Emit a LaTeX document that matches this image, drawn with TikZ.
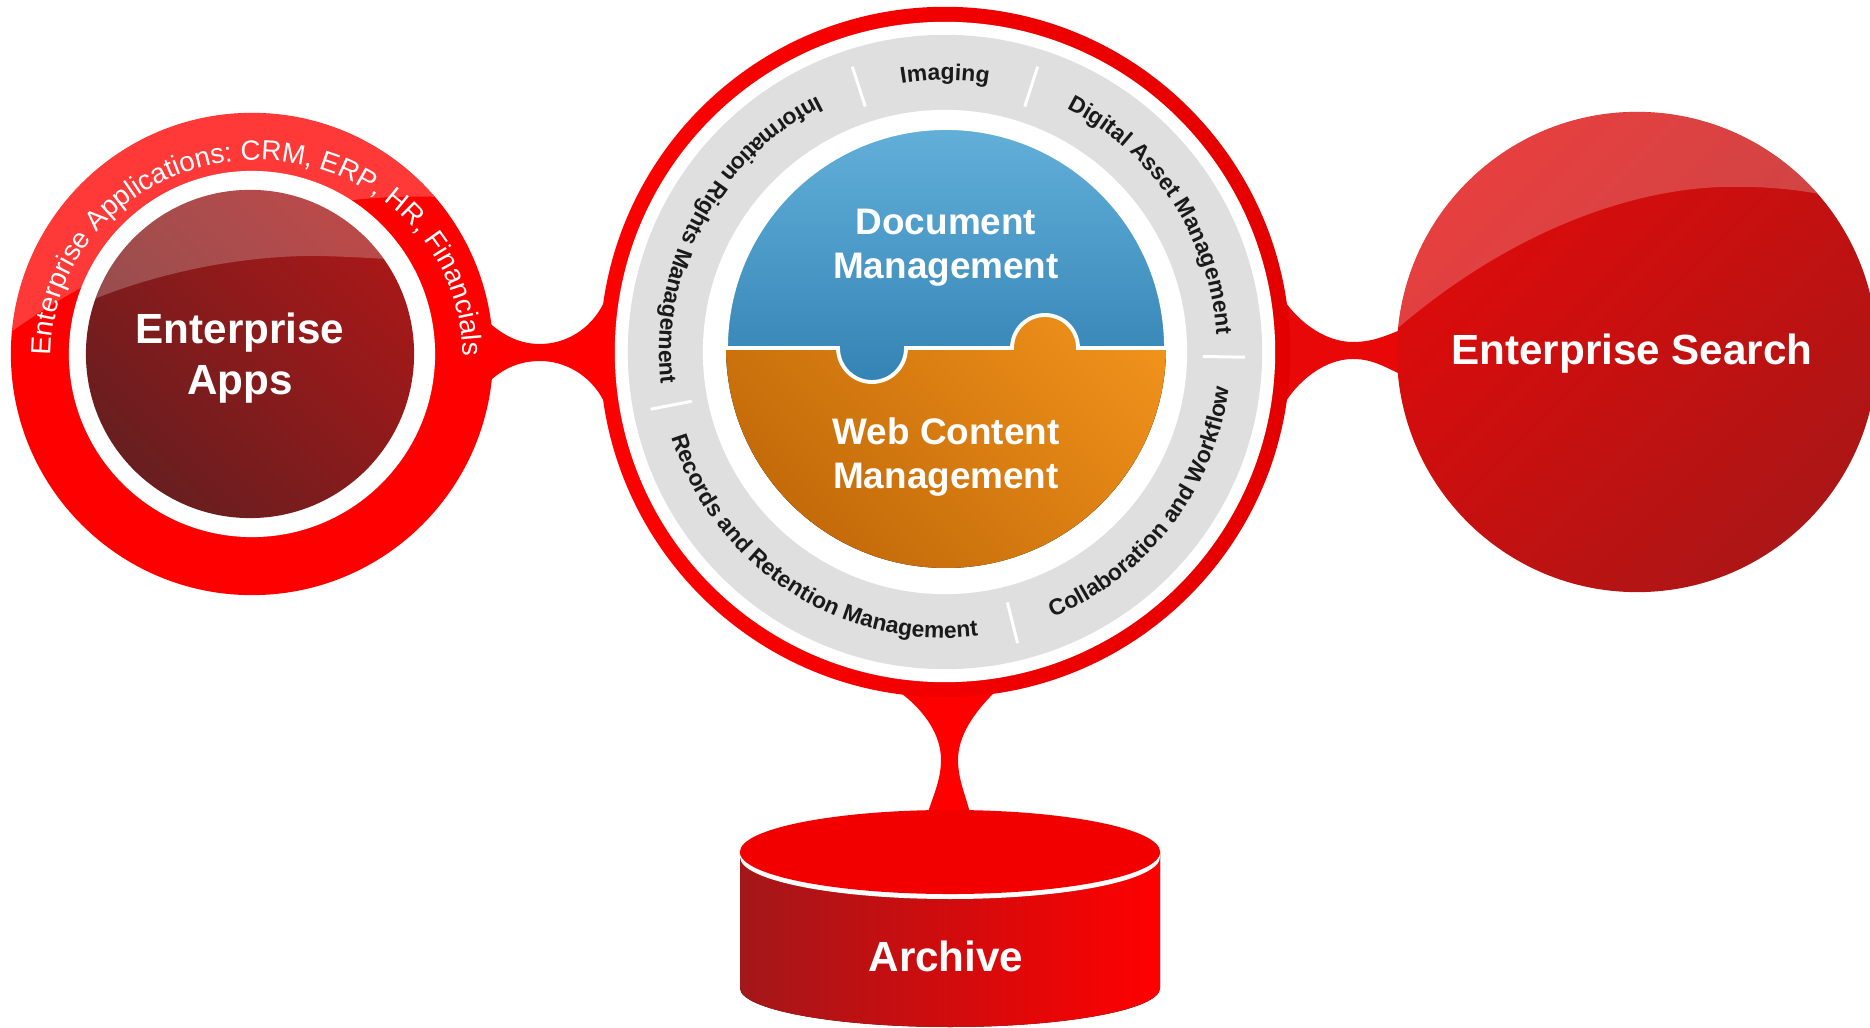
\documentclass[tikz,border=0pt]{standalone}
\usepackage{fontspec}
\setmainfont{Liberation Sans}
\usetikzlibrary{shapes.geometric,decorations.text}

\definecolor{ringred}{HTML}{FF0000}
\definecolor{ringdeep}{HTML}{E40000}
\definecolor{appstop}{HTML}{A81818}
\definecolor{appsbot}{HTML}{681E20}
\definecolor{searchtop}{HTML}{E00A0A}
\definecolor{searchbot}{HTML}{AC1616}
\definecolor{neckred}{HTML}{E80808}
\definecolor{bandgray}{HTML}{DFDFDF}
\definecolor{doctop}{HTML}{62AFD9}
\definecolor{docbot}{HTML}{3383B4}
\definecolor{webtop}{HTML}{F8991E}
\definecolor{webbot}{HTML}{C46B0A}
\definecolor{archlo}{HTML}{A3171A}
\definecolor{archmid}{HTML}{E80606}
\definecolor{archhi}{HTML}{FF0000}
\definecolor{archlid}{HTML}{F20000}
\definecolor{ringtext}{HTML}{1A1A1A}

\pgfdeclarelayer{back}
\pgfsetlayers{back,main}

\newcommand\ringfont{\fontsize{6.5}{7}\selectfont\bfseries}
\newcommand\appsfont{\fontsize{7.9}{9}\selectfont}

\tikzset{
  disc/.style={circle, inner sep=0pt, outer sep=0pt, minimum size=#1},
  gloss/.style={fill=white, fill opacity=0.22},
  neck/.style={fill=ringred},
  spoke/.style={draw=white, line width=0.85pt},
  bigtext/.style={text=white, font=\fontsize{12}{14.5}\selectfont\bfseries, align=center, inner sep=0pt},
  midtext/.style={text=white, font=\fontsize{10.5}{12.5}\selectfont\bfseries, align=center, inner sep=0pt},
  ringlabel/.style={decorate, decoration={text along path, text={|\ringfont|#1}, text align=center, text color=ringtext}},
}

\begin{document}
\begin{tikzpicture}[x=0.01cm, y=0.01cm]
\useasboundingbox (0,0) rectangle (1870,-1028);

\node[disc=4.82cm, fill=ringred] (apps) at (252,-354) {};
\begin{scope}
  \clip (apps.center) circle[radius=241];
  \fill[gloss] (0,-340) .. controls (120,-250) and (300,-180) .. (480,-200) -- (480,-100) -- (0,-100) -- cycle;
\end{scope}
\node[disc=3.66cm, fill=white] (appsgap) at (apps.center) {};
\node[disc=3.28cm, top color=appstop, bottom color=appsbot, shading angle=-45] (appsdisc) at (250,-354) {};
\begin{scope}
  \clip (appsdisc.center) circle[radius=164];
  \fill[gloss] (80,-305) .. controls (160,-270) and (250,-255) .. (320,-256) .. controls (360,-257) and (390,-259) .. (420,-262) -- (420,-180) -- (80,-180) -- cycle;
\end{scope}
\coordinate (appsmid) at (257,-356);
\path[decorate, decoration={text along path, text={|\appsfont|Enterprise Applications: CRM, ERP, HR, Financials}, text align=center, text color=white}]
  ([shift={(188:206 and 196)}]appsmid) arc[start angle=188, end angle=-8, x radius=206, y radius=196];

\node[disc=6.9cm, left color=ringred, right color=ringdeep] (core) at (945,-352) {};
\node[disc=6.6cm, fill=white] (coregap) at (core.center) {};
\node[disc=6.34cm, fill=bandgray] (band) at (core.center) {};
\node[disc=4.84cm, fill=white] (bandgap) at (core.center) {};
\foreach \a in {108,72,-1,-76,191}
  \draw[spoke] ([shift={(\a:258)}]core.center) -- ([shift={(\a:300)}]core.center);

\fill[top color=webtop, bottom color=webbot, shading angle=-45] (946,-348) circle[radius=220];
\draw[top color=doctop, bottom color=docbot, draw=white, line width=1.1pt]
  (726,-348) arc[start angle=180, end angle=0, radius=220] -- (1078,-348)
  arc[start angle=0, end angle=180, radius=33] -- (906,-348)
  arc[start angle=0, end angle=-180, radius=34] -- cycle;

\path[ringlabel=Imaging] ([shift={(110:272)}]core.center) arc[start angle=110, end angle=70, radius=272];
\path[ringlabel=Digital Asset Management] ([shift={(76:272)}]core.center) arc[start angle=76, end angle=-9, radius=272];
\path[ringlabel=Information Rights Management] ([shift={(105:286)}]core.center) arc[start angle=105, end angle=198, radius=286];
\path[ringlabel=Records and Retention Management] ([shift={(190:286)}]core.center) arc[start angle=190, end angle=284, radius=286];
\path[ringlabel=Collaboration and Workflow] ([shift={(280:286)}]core.center) arc[start angle=280, end angle=365, radius=286];

\node[disc=4.8cm, top color=searchtop, bottom color=searchbot, shading angle=45] (search) at (1637,-352) {};
\begin{scope}
  \clip (search.center) circle[radius=240];
  \fill[gloss] (1390,-335) .. controls (1480,-255) and (1600,-192) .. (1720,-187) .. controls (1770,-186) and (1800,-190) .. (1830,-196) -- (1890,-100) -- (1390,-100) -- cycle;
\end{scope}

\fill[left color=archlo, middle color=archmid, right color=archhi]
  (740,-852) -- (740,-988) arc[start angle=180, end angle=360, x radius=210, y radius=39] -- (1160,-852) -- cycle;
\fill[white] (950,-857) ellipse[x radius=210, y radius=42];
\node[ellipse, inner sep=0pt, outer sep=0pt, minimum width=4.2cm, minimum height=0.84cm, fill=archlid] (archtop) at (950,-852) {};

\begin{pgfonlayer}{back}
  \fill[neck] ([shift={(-10,0)}]apps.7) -- (apps.7) .. controls (505,-336) and (520,-344) .. (540,-344)
    .. controls (565,-344) and (590,-330) .. (core.172) -- ([shift={(10,0)}]core.172) -- ([shift={(10,0)}]core.188) -- (core.188)
    .. controls (590,-375) and (565,-361) .. (540,-361) .. controls (520,-361) and (505,-368) .. (apps.-6) -- ([shift={(-10,0)}]apps.-6) -- cycle;
  \fill[neck, fill=neckred] ([shift={(-10,0)}]core.8) -- (core.8) .. controls (1300,-322) and (1325,-342) .. (1353,-342)
    .. controls (1372,-342) and (1385,-336) .. (search.175) -- ([shift={(10,0)}]search.175) -- ([shift={(10,0)}]search.185) -- (search.185)
    .. controls (1385,-367) and (1372,-359) .. (1353,-359) .. controls (1325,-359) and (1300,-380) .. (core.-8) -- ([shift={(-10,0)}]core.-8) -- cycle;
  \fill[neck] ([shift={(0,10)}]core.263) -- (core.263) .. controls (925,-712) and (941,-735) .. (941,-760)
    .. controls (941,-782) and (931,-800) .. ([shift={(-25,-12)}]archtop.north) -- ([shift={(22,-12)}]archtop.north)
    .. controls (968,-800) and (958,-782) .. (958,-760) .. controls (958,-735) and (975,-712) .. (core.278) -- ([shift={(0,10)}]core.278) -- cycle;
\end{pgfonlayer}

\node[bigtext] (appslabel) at (240,-358) {Enterprise\\Apps};
\node[midtext] (doclabel) at (946,-248) {Document\\Management};
\node[midtext] (weblabel) at (946,-457) {Web Content\\Management};
\node[bigtext] (searchlabel) at (1632,-354) {Enterprise Search};
\node[bigtext] (archivelabel) at (946,-956) {Archive};
\end{tikzpicture}
\end{document}
